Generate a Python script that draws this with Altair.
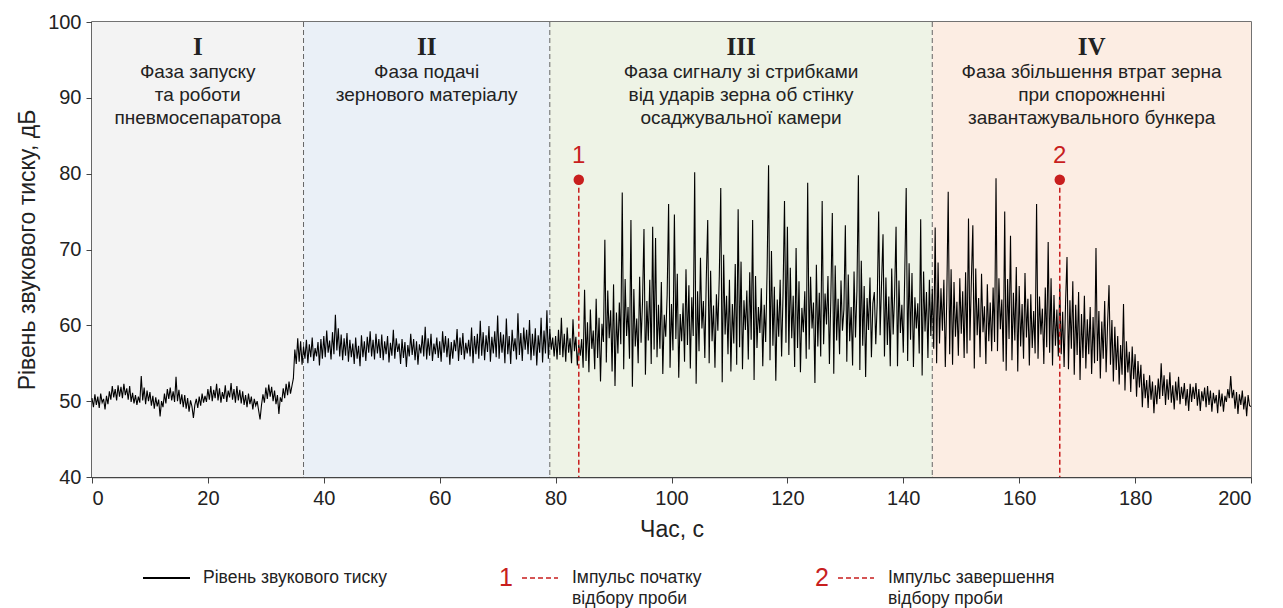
import altair as alt
import pandas as pd

# ---- signal (sound pressure level, dB) every 0.25 s ----
level_phase_I = [
    50.4, 49.2, 50.9, 49.5, 50.6, 49.1, 51.0, 49.8, 50.3, 48.9, 50.7, 49.6, 51.3, 50.2, 52.0, 50.5, 51.6, 50.1, 52.1, 50.6,
    51.9, 50.4, 52.3, 50.8, 51.7, 50.2, 52.0, 49.9, 51.1, 49.7, 50.8, 49.5, 50.6, 49.8, 53.3, 50.1, 51.8, 49.6, 51.4, 50.0,
    51.2, 49.4, 50.7, 49.0, 50.5, 49.3, 50.2, 48.0, 50.0, 49.2, 51.0, 49.7, 51.6, 50.3, 51.8, 50.1, 51.3, 49.9, 53.2, 50.0,
    51.5, 49.6, 50.9, 49.2, 50.8, 49.0, 50.4, 48.6, 50.1, 49.3, 47.8, 49.5, 50.3, 49.1, 50.6, 49.4, 51.0, 49.8, 50.7, 49.9,
    51.6, 50.2, 52.0, 50.0, 51.5, 50.4, 52.3, 50.1, 51.7, 49.8, 51.2, 50.3, 52.1, 49.9, 51.4, 50.5, 52.4, 50.2, 51.6, 49.8,
    52.0, 50.1, 51.5, 49.7, 51.3, 49.5, 50.8, 49.2, 51.0, 49.6, 50.6, 48.9, 50.3, 49.4, 50.0, 48.8, 47.6, 49.5, 50.9, 49.8,
    51.8, 50.3, 52.2, 50.6, 51.9, 50.0, 51.4, 49.6, 50.8, 48.3, 50.5, 49.9, 51.7, 50.4, 52.3, 50.8, 52.6, 51.0, 52.0, 53.0,
]
level_phase_II = [
    56.8, 54.9, 58.3, 55.2, 57.9, 54.8, 57.2, 55.6, 58.1, 55.0, 57.5, 55.8, 58.4, 55.3, 57.0, 55.9, 57.8, 54.7, 58.2, 55.6,
    58.6, 55.8, 59.3, 56.4, 58.0, 55.5, 59.1, 56.2, 61.4, 56.7, 59.6, 55.9, 58.8, 55.4, 58.3, 56.0, 59.0, 55.2, 58.1, 55.8,
    57.6, 54.9, 58.4, 55.6, 57.3, 54.6, 58.7, 55.8, 57.9, 55.3, 58.5, 56.4, 59.2, 55.9, 58.1, 55.5, 58.9, 56.3, 58.2, 55.7,
    58.8, 55.4, 57.9, 56.2, 58.6, 55.1, 57.7, 56.0, 59.4, 55.6, 58.3, 56.5, 57.6, 54.9, 58.2, 55.7, 57.8, 54.5, 57.4, 55.9,
    58.9, 56.1, 58.2, 55.4, 57.9, 54.8, 57.5, 56.3, 58.7, 55.9, 59.8, 55.5, 58.3, 56.0, 58.9, 55.3, 57.6, 56.2, 58.4, 55.7,
    57.9, 55.2, 59.2, 56.4, 58.6, 55.8, 58.3, 54.8, 57.8, 55.6, 58.1, 56.6, 59.5, 55.3, 58.4, 56.1, 59.0, 55.5, 57.7, 56.3,
    58.1, 55.9, 59.7, 55.0, 58.6, 56.2, 58.9, 55.6, 60.6, 56.0, 59.1, 55.4, 58.7, 56.5, 59.9, 55.2, 58.5, 56.3, 59.2, 55.8,
    61.3, 55.6, 59.1, 56.4, 58.8, 55.0, 60.9, 56.2, 58.6, 54.9, 59.4, 56.6, 58.3, 55.5, 61.6, 56.1, 59.0, 55.3, 59.7, 56.8,
    59.4, 56.2, 60.7, 55.4, 58.9, 56.0, 59.6, 54.7, 58.7, 56.4, 61.0, 55.1, 59.3, 56.3, 62.0, 55.6, 59.5, 56.8, 58.4, 55.9,
]
level_phase_III_IV = [
    58.6, 55.5, 59.4, 56.1, 61.0, 55.8, 58.9, 55.2, 59.7, 56.4, 58.3, 55.0, 60.8, 56.6, 58.5, 54.7, 57.5, 56.0, 58.2, 54.4,
    64.7, 55.3, 60.4, 53.8, 62.1, 56.9, 59.3, 54.2, 63.5, 55.7, 61.0, 52.6, 60.2, 57.8, 71.3, 55.1, 64.6, 58.3, 62.0, 53.9,
    65.4, 52.0, 61.7, 56.3, 63.0, 57.5, 77.5, 54.2, 66.1, 58.6, 62.4, 55.6, 73.9, 51.9, 64.8, 57.2, 60.9, 55.0, 66.4, 57.7,
    63.1, 72.7, 53.5, 63.2, 58.0, 66.0, 54.9, 73.0, 56.8, 71.5, 55.8, 62.7, 56.9, 65.7, 53.6, 61.4, 58.5, 64.0, 76.0, 54.4,
    62.8, 56.7, 74.6, 58.2, 66.8, 53.1, 61.5, 57.9, 62.9, 55.2, 67.4, 57.4, 65.3, 54.3, 63.7, 58.6, 80.2, 52.3, 64.5, 56.6,
    68.9, 59.6, 63.2, 55.7, 66.0, 73.9, 55.0, 67.2, 57.9, 62.6, 54.4, 64.1, 59.3, 66.5, 78.1, 52.5, 69.3, 58.8, 63.9, 56.2,
    66.0, 53.9, 62.8, 57.6, 68.1, 54.8, 75.3, 57.1, 68.4, 54.2, 63.3, 59.4, 64.6, 55.5, 67.0, 58.1, 73.9, 52.8, 66.5, 57.0,
    62.4, 59.0, 64.9, 54.6, 62.7, 57.8, 67.3, 81.1, 55.4, 69.8, 57.3, 65.1, 52.7, 63.4, 58.5, 66.0, 55.9, 64.2, 76.4, 57.7,
    73.0, 56.1, 67.6, 58.3, 63.9, 54.5, 70.2, 57.0, 65.8, 53.8, 62.3, 59.1, 64.5, 55.6, 78.8, 56.8, 66.4, 59.6, 63.0, 52.4,
    68.0, 57.2, 64.3, 55.9, 76.4, 57.5, 64.2, 60.1, 66.5, 54.9, 63.8, 74.8, 53.6, 67.9, 58.0, 63.5, 56.2, 65.9, 59.3, 62.1,
    73.2, 55.2, 66.7, 57.9, 62.4, 54.7, 67.1, 58.4, 64.6, 79.8, 54.1, 68.5, 57.3, 65.2, 53.2, 63.6, 59.4, 66.3, 55.8, 62.9,
    64.4, 57.5, 63.0, 75.0, 58.7, 65.6, 72.0, 55.9, 66.3, 57.4, 63.8, 54.6, 67.5, 58.8, 64.1, 73.0, 54.6, 65.9, 59.0, 62.7,
    56.4, 66.8, 78.1, 55.3, 68.2, 58.1, 66.9, 54.5, 63.7, 59.6, 62.9, 56.3, 74.0, 53.4, 67.1, 59.2, 64.4, 55.7, 66.0, 58.6,
    64.8, 56.9, 72.9, 55.0, 68.3, 57.6, 64.9, 59.3, 66.0, 54.5, 63.5, 77.6, 56.2, 67.4, 54.8, 65.7, 58.5, 63.1, 56.0, 66.2,
    58.9, 64.5, 55.7, 67.0, 56.3, 74.1, 58.0, 66.0, 73.2, 54.3, 67.5, 58.7, 63.6, 55.8, 66.8, 59.1, 62.5, 54.9, 65.4, 57.9,
    63.0, 56.6, 65.0, 57.8, 79.4, 56.6, 66.2, 59.5, 63.4, 55.2, 75.0, 54.0, 66.1, 58.2, 71.8, 55.4, 64.3, 58.0, 67.7, 53.9,
    65.2, 57.2, 62.8, 55.6, 66.9, 58.4, 63.5, 54.7, 64.1, 57.0, 61.9, 56.3, 76.0, 55.6, 63.8, 58.8, 62.2, 54.9, 65.0, 57.1,
    71.0, 56.4, 66.2, 54.7, 64.0, 57.3, 62.1, 55.9, 65.3, 56.2, 61.8, 54.5, 63.0, 69.0, 54.2, 63.3, 56.9, 65.8, 53.5, 62.7,
    56.1, 64.4, 52.8, 61.5, 55.7, 63.9, 54.3, 60.8, 56.2, 62.4, 53.6, 61.1, 55.0, 70.2, 55.3, 61.9, 53.0, 60.5, 55.6, 63.2,
    53.8, 60.2, 65.3, 54.8, 60.7, 52.6, 59.8, 54.1, 58.6, 52.2, 57.4, 53.5, 62.8, 51.4, 57.9, 53.8, 56.5, 51.2, 57.2, 52.9,
    56.2, 50.6, 55.3, 51.8, 54.8, 49.2, 53.6, 50.4, 52.8, 49.1, 53.4, 50.2, 52.6, 48.4, 52.1, 49.6, 53.0, 50.3, 55.0, 50.7,
    53.4, 49.5, 52.9, 50.2, 53.8, 49.8, 52.1, 48.9, 52.6, 50.1, 53.2, 49.6, 51.9, 50.3, 52.4, 49.4, 51.6, 48.7, 52.3, 49.9,
    51.9, 50.3, 52.4, 49.4, 51.6, 48.7, 51.3, 50.0, 51.8, 49.2, 52.0, 49.5, 51.4, 48.6, 51.1, 49.7, 50.8, 48.4, 51.5, 49.3,
    51.0, 48.6, 50.7, 49.9, 51.6, 50.4, 53.3, 50.4, 51.5, 49.0, 51.2, 48.3, 50.9, 49.5, 51.4, 48.9, 50.6, 48.0, 50.8, 49.4,
    49.3,
]
level = level_phase_I + level_phase_II + level_phase_III_IV
time_step = 0.25
time = [i * time_step for i in range(len(level))]

# ---- phases ----
phase_num = ["I", "II", "III", "IV"]
phase_start = [0, 36.5, 79, 145]
phase_end = [36.5, 79, 145, 200]
phase_colors = ["#f3f3f3", "#eaf0f7", "#eef3e6", "#fcede3"]
phase_text = [
    ["Фаза запуску", "та роботи", "пневмосепаратора"],
    ["Фаза подачі", "зернового матеріалу"],
    ["Фаза сигналу зі стрибками", "від ударів зерна об стінку", "осаджувальної камери"],
    ["Фаза збільшення втрат зерна", "при спорожненні", "завантажувального бункера"],
]
dividers = [36.5, 79, 145]

# ---- sampling pulses ----
pulse_time = [84, 167]
pulse_label = ["1", "2"]
pulse_top = [79.2, 79.2]

x_ticks = [0, 20, 40, 60, 80, 100, 120, 140, 160, 180, 200]
y_ticks = [40, 50, 60, 70, 80, 90, 100]

W, H = 1159, 455
FONT = "Liberation Sans"
RED = "#c81e1e"
TXT = "#222222"

sig = pd.DataFrame({"t": time, "db": level})
phases = pd.DataFrame({"phase": phase_num, "start": phase_start, "end": phase_end,
                       "mid": [(a + b) / 2 for a, b in zip(phase_start, phase_end)]})
rows = []
for mid, lines in zip(phases["mid"], phase_text):
    for i, s in enumerate(lines):
        rows.append({"mid": mid, "line": i, "text": s})
ptext = pd.DataFrame(rows)
divs = pd.DataFrame({"t": dividers})
pulses = pd.DataFrame({"t": pulse_time, "label": pulse_label, "top": pulse_top})
one = pd.DataFrame({"a": [0]})

xs = alt.Scale(domain=[0, 200], nice=False, zero=False)
ys = alt.Scale(domain=[40, 100], nice=False, zero=False)

bg = alt.Chart(phases).mark_rect().encode(
    x=alt.X("start:Q", scale=xs, axis=alt.Axis(values=x_ticks, format="d", title="Час, с",
                                                grid=False, titlePadding=10)),
    x2="end:Q",
    y=alt.value(0), y2=alt.value(H),
    color=alt.Color("phase:N", scale=alt.Scale(domain=phase_num, range=phase_colors), legend=None),
)

div_rules = alt.Chart(divs).mark_rule(color="#666666", strokeDash=[5, 3], strokeWidth=1).encode(
    x=alt.X("t:Q", scale=xs), y=alt.value(0), y2=alt.value(H))

line = alt.Chart(sig).mark_line(color="black", strokeWidth=1.1).encode(
    x=alt.X("t:Q", scale=xs),
    y=alt.Y("db:Q", scale=ys, axis=alt.Axis(values=y_ticks, title="Рівень звукового тиску, дБ",
                                             grid=False, titlePadding=8)),
)

pulse_rules = alt.Chart(pulses).mark_rule(color=RED, strokeDash=[5, 3], strokeWidth=1.5).encode(
    x=alt.X("t:Q", scale=xs), y=alt.Y("top:Q", scale=ys), y2=alt.datum(40))
pulse_dots = alt.Chart(pulses).mark_point(filled=True, color=RED, size=110, opacity=1).encode(
    x=alt.X("t:Q", scale=xs), y=alt.Y("top:Q", scale=ys))
pulse_text = alt.Chart(pulses).mark_text(color=RED, fontSize=24, font=FONT, dy=-24).encode(
    x=alt.X("t:Q", scale=xs), y=alt.Y("top:Q", scale=ys), text="label:N")

numerals = alt.Chart(phases).mark_text(font="Liberation Serif", fontWeight="bold", fontSize=25,
                                       color=TXT).encode(
    x=alt.X("mid:Q", scale=xs), y=alt.value(25), text="phase:N")
descr = [
    alt.Chart(ptext).transform_filter(alt.datum.line == i).mark_text(
        font=FONT, fontSize=19, color=TXT).encode(
        x=alt.X("mid:Q", scale=xs), y=alt.value(50 + 23 * i), text="text:N")
    for i in range(3)
]

# ---- custom legend below the chart ----
LY = 556
leg = [alt.Chart(one).mark_rule(color="black", strokeWidth=2).encode(
    x=alt.value(51), x2=alt.value(98), y=alt.value(LY)),
    alt.Chart(one).mark_text(text="Рівень звукового тиску", font=FONT, fontSize=17.5,
                             align="left", color=TXT).encode(x=alt.value(111), y=alt.value(LY))]
for num, xn, lab in [("1", 414, "Імпульс початку"), ("2", 730, "Імпульс завершення")]:
    leg.append(alt.Chart(one).mark_text(text=num, font=FONT, fontSize=25, color=RED).encode(
        x=alt.value(xn), y=alt.value(LY)))
    leg.append(alt.Chart(one).mark_rule(color=RED, strokeDash=[5, 3], strokeWidth=1.5).encode(
        x=alt.value(xn + 16), x2=alt.value(xn + 52), y=alt.value(LY)))
    leg.append(alt.Chart(one).mark_text(text=lab, font=FONT, fontSize=17.5, align="left",
                                        color=TXT).encode(x=alt.value(xn + 66), y=alt.value(LY)))
    leg.append(alt.Chart(one).mark_text(text="відбору проби", font=FONT, fontSize=17.5,
                                        align="left", color=TXT).encode(
        x=alt.value(xn + 66), y=alt.value(LY + 21)))

chart = alt.layer(bg, div_rules, line, pulse_rules, pulse_dots, pulse_text, numerals, *descr,
                  *leg).properties(
    width=W, height=H,
    autosize=alt.AutoSizeParams(type="none"),
    padding={"left": 92, "top": 22, "right": 32, "bottom": 131},
    background="white",
).configure_view(stroke="#444444", strokeWidth=1.5).configure_axis(
    labelFont=FONT, titleFont=FONT, labelFontSize=20, titleFontSize=23, titleFontWeight="normal",
    labelColor=TXT, titleColor=TXT, domainColor="#444444", tickColor="#444444",
    domainWidth=1.5, tickSize=6, labelPadding=5,
)

chart.save("out.html", embed_options={"renderer": "svg", "actions": False})
